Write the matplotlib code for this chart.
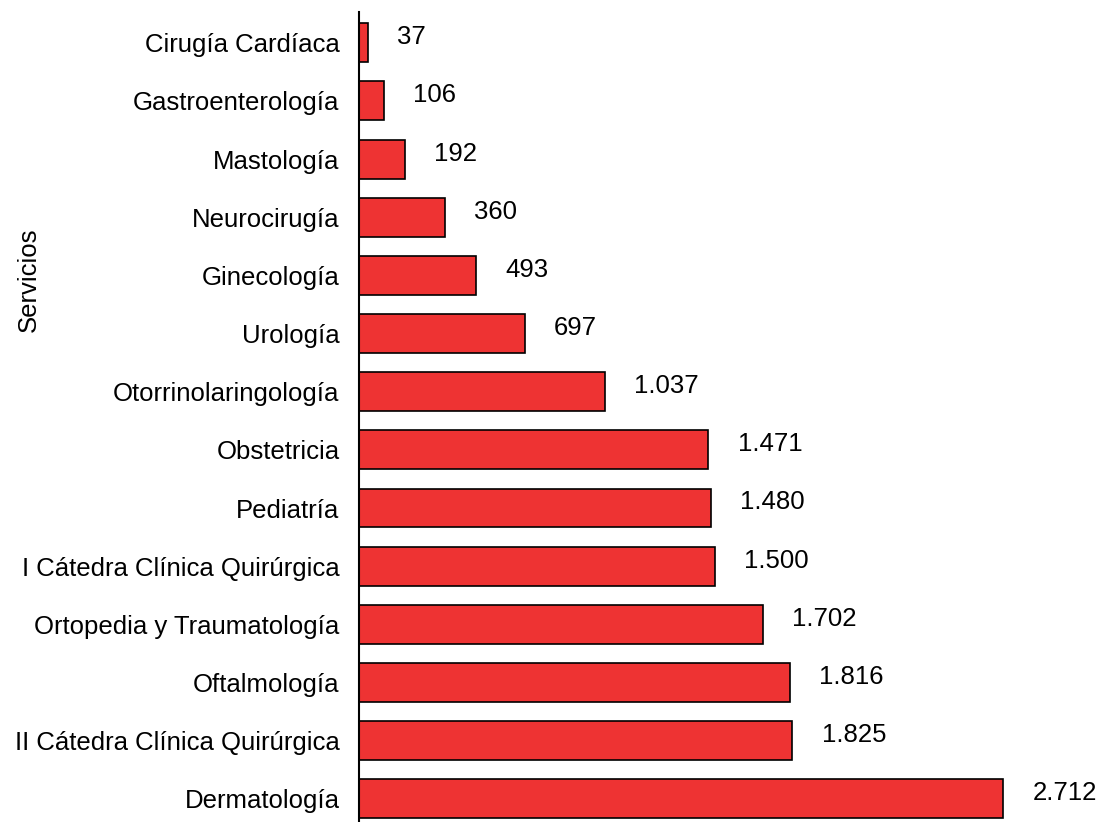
import matplotlib
matplotlib.use("Agg")
from matplotlib import pyplot as plt

plt.rcParams['font.family'] = ['Liberation Sans', 'DejaVu Sans']

servicios = ["Cirugía Cardíaca", "Gastroenterología", "Mastología", "Neurocirugía",
             "Ginecología", "Urología", "Otorrinolaringología", "Obstetricia",
             "Pediatría", "I Cátedra Clínica Quirúrgica", "Ortopedia y Traumatología",
             "Oftalmología", "II Cátedra Clínica Quirúrgica", "Dermatología"]
valores = [37, 106, 192, 360, 493, 697, 1037, 1471, 1480, 1500, 1702, 1816, 1825, 2712]
etiquetas = ["37", "106", "192", "360", "493", "697", "1.037", "1.471", "1.480",
             "1.500", "1.702", "1.816", "1.825", "2.712"]

fig = plt.figure(figsize=(11, 8.22), dpi=100)
ax = fig.add_axes([0.3264, 0.0, 0.6736, 0.9854])

pos = list(range(len(servicios)))
ax.barh(pos, valores, height=0.67, color="#EE3333", edgecolor="black", linewidth=1.2)

for y, v, t in zip(pos, valores, etiquetas):
    ax.annotate(t, (v, y), xytext=(21, 4), textcoords="offset points",
                ha="left", va="center", fontsize=18.5)

ax.set_yticks(pos)
ax.set_yticklabels(servicios, fontsize=18.5)
ax.tick_params(axis="y", length=0, pad=14)
ax.set_xticks([])
ax.set_xlim(0, 3120)
ax.set_ylim(13.4, -0.53)
for s in ["top", "right", "bottom"]:
    ax.spines[s].set_visible(False)
ax.spines["left"].set_linewidth(1.5)

ax.set_ylabel("Servicios", fontsize=18.5)
ax.yaxis.set_label_coords(-0.429, 0.669)

fig.savefig("out.png", dpi=100)
